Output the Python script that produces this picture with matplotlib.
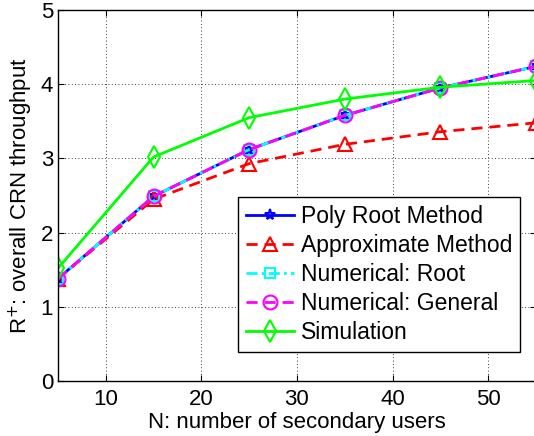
import matplotlib
matplotlib.use("Agg")
import matplotlib.pyplot as plt

N = [5, 15, 25, 35, 45, 55]
poly_root = [1.38, 2.49, 3.12, 3.58, 3.95, 4.24]
approx = [1.38, 2.45, 2.93, 3.19, 3.36, 3.48]
num_root = [1.38, 2.49, 3.12, 3.58, 3.95, 4.24]
num_general = [1.38, 2.49, 3.12, 3.58, 3.95, 4.24]
simulation = [1.52, 3.02, 3.55, 3.80, 3.96, 4.05]
xticks = [10, 20, 30, 40, 50]
yticks = [0, 1, 2, 3, 4, 5]

plt.rcParams['font.family'] = ['Liberation Sans', 'DejaVu Sans']

fig = plt.figure(figsize=(5.34, 4.36), dpi=100)
ax = fig.add_axes([0.1086, 0.126, 0.895, 0.851])

ax.plot(N, poly_root, color='#0000ff', lw=2, marker='*', ms=8, mfc='none', mew=1.5, label='Poly Root Method')
ax.plot(N, approx, color='#ff0000', lw=2, ls=(0, (4, 2.5)), marker='^', ms=10, mfc='none', mew=1.5, label='Approximate Method')
ax.plot(N, num_root, color='#00ffff', lw=2, ls=(0, (4, 1.5, 1, 1.5)), marker='s', ms=7, mfc='none', mew=1.5, label='Numerical: Root')
ax.plot(N, num_general, color='#ff00ff', lw=2, ls=(0, (4, 2.5)), marker='o', ms=10, mfc='none', mew=1.5, label='Numerical: General')
ax.plot(N, simulation, color='#00ff00', lw=2, marker='d', ms=11, mfc='none', mew=1.5, label='Simulation')

ax.set_xlim(5, 55)
ax.set_ylim(0, 5)
ax.set_xticks(xticks)
ax.set_yticks(yticks)
ax.tick_params(labelsize=16, direction='in', length=4, top=True, right=True)
ax.tick_params(axis='x', pad=6)
ax.tick_params(axis='y', pad=3.5)
ax.grid(True, color='black', ls=(0, (1, 3)), lw=0.6)
for s in ax.spines.values():
    s.set_linewidth(1)

ax.set_xlabel('N: number of secondary users', fontsize=16, labelpad=1)
ax.set_ylabel('R$^{+}$: overall CRN throughput', fontsize=16, labelpad=4)

leg = ax.legend(loc='lower right', bbox_to_anchor=(0.9675, 0.078), fontsize=16.5, fancybox=False, framealpha=1,
                edgecolor='black', handlelength=2.1, borderpad=0.35, labelspacing=0.26, handletextpad=0.3,
                borderaxespad=0)
leg.get_frame().set_linewidth(1)

fig.savefig('out.png', dpi=100)
